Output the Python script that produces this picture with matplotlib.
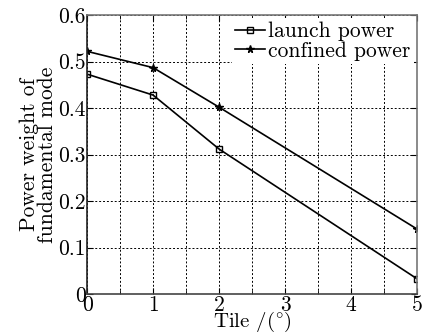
import matplotlib
matplotlib.use("Agg")
import matplotlib.pyplot as plt

plt.rcParams['font.family'] = 'serif'
plt.rcParams['font.serif'] = ['cmr10', 'DejaVu Serif']
plt.rcParams['mathtext.fontset'] = 'cm'
plt.rcParams['axes.formatter.use_mathtext'] = True

tilt = [0, 1, 2, 5]
launch_power = [0.473, 0.428, 0.312, 0.033]
confined_power = [0.522, 0.487, 0.402, 0.140]
xticks = [0, 1, 2, 3, 4, 5]
yticks = [0, 0.1, 0.2, 0.3, 0.4, 0.5, 0.6]
ytick_labels = ['0', '0.1', '0.2', '0.3', '0.4', '0.5', '0.6']

fig = plt.figure(figsize=(4.29, 3.35), dpi=100)
ax = fig.add_axes([0.203, 0.122, 0.769, 0.833])

ax.plot(tilt, launch_power, color='k', lw=1.2, marker='s', ms=5,
        mfc='none', mew=1.0, label='launch power')
ax.plot(tilt, confined_power, color='k', lw=1.2, marker='*', ms=5.5,
        label='confined power')

ax.set_xlim(0, 5)
ax.set_ylim(0, 0.6)
ax.set_xticks(xticks)
ax.set_xticklabels([str(v) for v in xticks])
ax.set_xticks([0.5, 1.5, 2.5, 3.5, 4.5], minor=True)
ax.set_yticks(yticks)
ax.set_yticklabels(ytick_labels)
ax.grid(True, which='both', color='k', ls=(0, (2, 2)), lw=0.7)
ax.tick_params(which='both', direction='in', top=True, right=True,
               labelsize=15.5, length=4, pad=1)
ax.tick_params(which='minor', length=3)
for s in ax.spines.values():
    s.set_color('#777777')
    s.set_linewidth(1.2)
ax.spines['left'].set_color('#222222')
ax.spines['bottom'].set_color('#444444')

ax.set_xlabel(r'Tile /($^{\circ}$)', fontsize=15, labelpad=-3.5)
ax.set_ylabel('Power weight of\nfundamental mode', fontsize=15.5,
              linespacing=0.85, labelpad=1)

ax.legend(loc='upper right', frameon=True, fontsize=15.5, handlelength=1.4,
          handletextpad=0.15, borderpad=0.15, labelspacing=0.0,
          borderaxespad=0.15, fancybox=False, edgecolor='none',
          facecolor='white', framealpha=1)

fig.savefig('out.png', dpi=100)
